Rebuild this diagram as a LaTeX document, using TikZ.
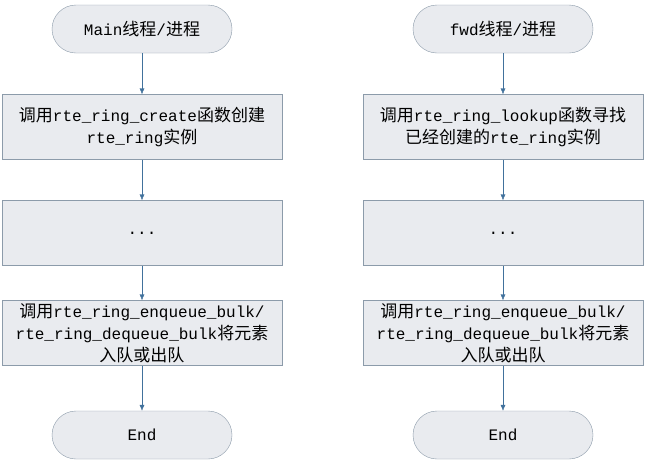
\documentclass[tikz,border=0pt]{standalone}
\usepackage{fontspec}
\usetikzlibrary{arrows.meta}
\setmainfont{Liberation Mono}
\newfontfamily\cjk{Noto Sans CJK SC}
\newcommand{\zh}[1]{{\cjk\fontsize{17}{22}\selectfont #1}}
\definecolor{bord}{HTML}{8C9BAA}
\definecolor{fillc}{HTML}{E9EBEF}
\definecolor{arrc}{HTML}{41719C}
\begin{document}
\begin{tikzpicture}[x=1pt,y=-1pt,
  box/.style={draw=bord, fill=fillc, minimum width=280pt, minimum height=65pt, align=center, font=\fontsize{16}{22}\selectfont, inner sep=0pt},
  term/.style={box, rounded corners=24pt, minimum width=180pt, minimum height=48pt},
  arr/.style={draw=arrc, -{Latex[length=6pt,width=5pt]}}]
\useasboundingbox (0,0) rectangle (645,464);
\fill[white] (0,0) rectangle (645,464);
\node[term] (a1) at (142,29) {Main\zh{线程}/\zh{进程}};
\node[box] (a2) at (142,127) {\zh{调用}rte\_ring\_create\zh{函数创建}\\rte\_ring\zh{实例}};
\node[box] (a3) at (142,233) {...};
\node[box] (a4) at (142,333) {\zh{调用}rte\_ring\_enqueue\_bulk/\\rte\_ring\_dequeue\_bulk\zh{将元素}\\\zh{入队或出队}};
\node[term] (a5) at (142,435) {End};
\node[term] (b1) at (503,29) {fwd\zh{线程}/\zh{进程}};
\node[box] (b2) at (503,127) {\zh{调用}rte\_ring\_lookup\zh{函数寻找}\\\zh{已经创建的}rte\_ring\zh{实例}};
\node[box] (b3) at (503,233) {...};
\node[box] (b4) at (503,333) {\zh{调用}rte\_ring\_enqueue\_bulk/\\rte\_ring\_dequeue\_bulk\zh{将元素}\\\zh{入队或出队}};
\node[term] (b5) at (503,435) {End};
\foreach \p in {a,b}{
  \draw[arr] (\p1) -- (\p2);
  \draw[arr] (\p2) -- (\p3);
  \draw[arr] (\p3) -- (\p4);
  \draw[arr] (\p4) -- (\p5);}
\end{tikzpicture}
\end{document}
